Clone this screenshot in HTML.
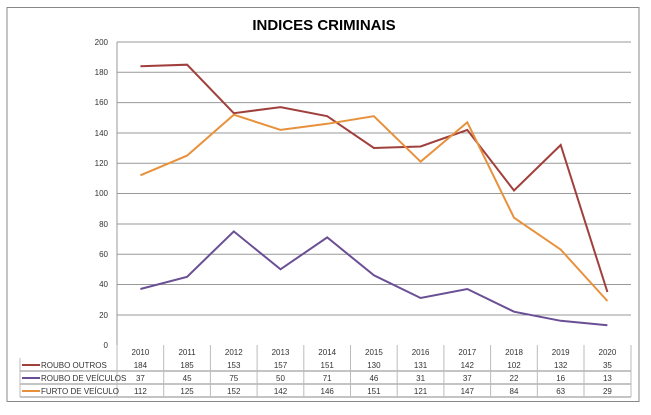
<!DOCTYPE html>
<html><head><style>body{margin:0;background:#fff}svg{display:block}</style></head><body>
<svg width="651" height="415" xmlns="http://www.w3.org/2000/svg" font-family="Liberation Sans, sans-serif">
<rect x="0" y="0" width="651" height="415" fill="#fff"/>
<rect x="7" y="7.5" width="632" height="394" fill="#fff" stroke="#888" stroke-width="1"/>
<text x="324" y="30" font-size="15" font-weight="bold" text-anchor="middle" fill="#000">INDICES CRIMINAIS</text>
<g stroke="#999" stroke-width="1">
<line x1="117" y1="42" x2="631" y2="42"/><line x1="117" y1="72.3" x2="631" y2="72.3"/>
<line x1="117" y1="102.6" x2="631" y2="102.6"/><line x1="117" y1="133" x2="631" y2="133"/>
<line x1="117" y1="163.2" x2="631" y2="163.2"/><line x1="117" y1="193.5" x2="631" y2="193.5"/>
<line x1="117" y1="224" x2="631" y2="224"/><line x1="117" y1="254.2" x2="631" y2="254.2"/>
<line x1="117" y1="284.5" x2="631" y2="284.5"/><line x1="117" y1="315" x2="631" y2="315"/>
<line x1="117" y1="42" x2="117" y2="345"/>
</g>
<g font-size="8" fill="#333" text-anchor="end">
<text x="108" y="45">200</text><text x="108" y="75">180</text><text x="108" y="105">160</text>
<text x="108" y="136">140</text><text x="108" y="166">120</text><text x="108" y="196">100</text>
<text x="108" y="227">80</text><text x="108" y="257">60</text><text x="108" y="287">40</text>
<text x="108" y="318">20</text><text x="108" y="348">0</text>
</g>
<polyline fill="none" stroke="#a0403c" stroke-width="2" points="140.4,66.2 187.1,64.7 233.8,113.2 280.5,107.1 327.2,116.2 373.9,148 420.6,146.5 467.3,129.9 514,190.5 560.7,145 607.4,292"/>
<polyline fill="none" stroke="#6a4f94" stroke-width="2" points="140.4,289 187.1,276.8 233.8,231.4 280.5,269.3 327.2,237.4 373.9,275.3 420.6,298 467.3,289 514,311.7 560.7,320.8 607.4,325.3"/>
<polyline fill="none" stroke="#e8913c" stroke-width="2" points="140.4,175.3 187.1,155.6 233.8,114.7 280.5,129.9 327.2,123.8 373.9,116.2 420.6,161.7 467.3,122.3 514,217.7 560.7,249.6 607.4,301"/>
<g stroke="#bbb" stroke-width="1">
<line x1="20" y1="371" x2="631" y2="371" stroke="#888"/>
<line x1="20" y1="384" x2="631" y2="384" stroke="#888"/>
<line x1="20" y1="397" x2="631" y2="397" stroke="#888"/>
<line x1="20" y1="358" x2="20" y2="397"/>
<line x1="117" y1="345" x2="117" y2="397"/>
<line x1="163.7" y1="345" x2="163.7" y2="397"/><line x1="210.4" y1="345" x2="210.4" y2="397"/>
<line x1="257.1" y1="345" x2="257.1" y2="397"/><line x1="303.8" y1="345" x2="303.8" y2="397"/>
<line x1="350.5" y1="345" x2="350.5" y2="397"/><line x1="397.2" y1="345" x2="397.2" y2="397"/>
<line x1="443.9" y1="345" x2="443.9" y2="397"/><line x1="490.6" y1="345" x2="490.6" y2="397"/>
<line x1="537.3" y1="345" x2="537.3" y2="397"/><line x1="584" y1="345" x2="584" y2="397"/>
<line x1="631" y1="345" x2="631" y2="397"/>
</g>
<line x1="22" y1="365" x2="40" y2="365" stroke="#a0403c" stroke-width="2"/>
<line x1="22" y1="378" x2="40" y2="378" stroke="#6a4f94" stroke-width="2"/>
<line x1="22" y1="391" x2="40" y2="391" stroke="#e8913c" stroke-width="2"/>
<g font-size="8" fill="#333">
<text x="41" y="368">ROUBO OUTROS</text><text x="41" y="381">ROUBO DE VEÍCULOS</text><text x="41" y="394">FURTO DE VEÍCULO</text>
</g>
<g font-size="8" fill="#333" text-anchor="middle">
<text x="140.4" y="355">2010</text><text x="187.1" y="355">2011</text><text x="233.8" y="355">2012</text><text x="280.5" y="355">2013</text><text x="327.2" y="355">2014</text><text x="373.9" y="355">2015</text><text x="420.6" y="355">2016</text><text x="467.3" y="355">2017</text><text x="514" y="355">2018</text><text x="560.7" y="355">2019</text><text x="607.4" y="355">2020</text>
<text x="140.4" y="368">184</text><text x="187.1" y="368">185</text><text x="233.8" y="368">153</text><text x="280.5" y="368">157</text><text x="327.2" y="368">151</text><text x="373.9" y="368">130</text><text x="420.6" y="368">131</text><text x="467.3" y="368">142</text><text x="514" y="368">102</text><text x="560.7" y="368">132</text><text x="607.4" y="368">35</text>
<text x="140.4" y="381">37</text><text x="187.1" y="381">45</text><text x="233.8" y="381">75</text><text x="280.5" y="381">50</text><text x="327.2" y="381">71</text><text x="373.9" y="381">46</text><text x="420.6" y="381">31</text><text x="467.3" y="381">37</text><text x="514" y="381">22</text><text x="560.7" y="381">16</text><text x="607.4" y="381">13</text>
<text x="140.4" y="394">112</text><text x="187.1" y="394">125</text><text x="233.8" y="394">152</text><text x="280.5" y="394">142</text><text x="327.2" y="394">146</text><text x="373.9" y="394">151</text><text x="420.6" y="394">121</text><text x="467.3" y="394">147</text><text x="514" y="394">84</text><text x="560.7" y="394">63</text><text x="607.4" y="394">29</text>
</g>
</svg>
</body></html>
